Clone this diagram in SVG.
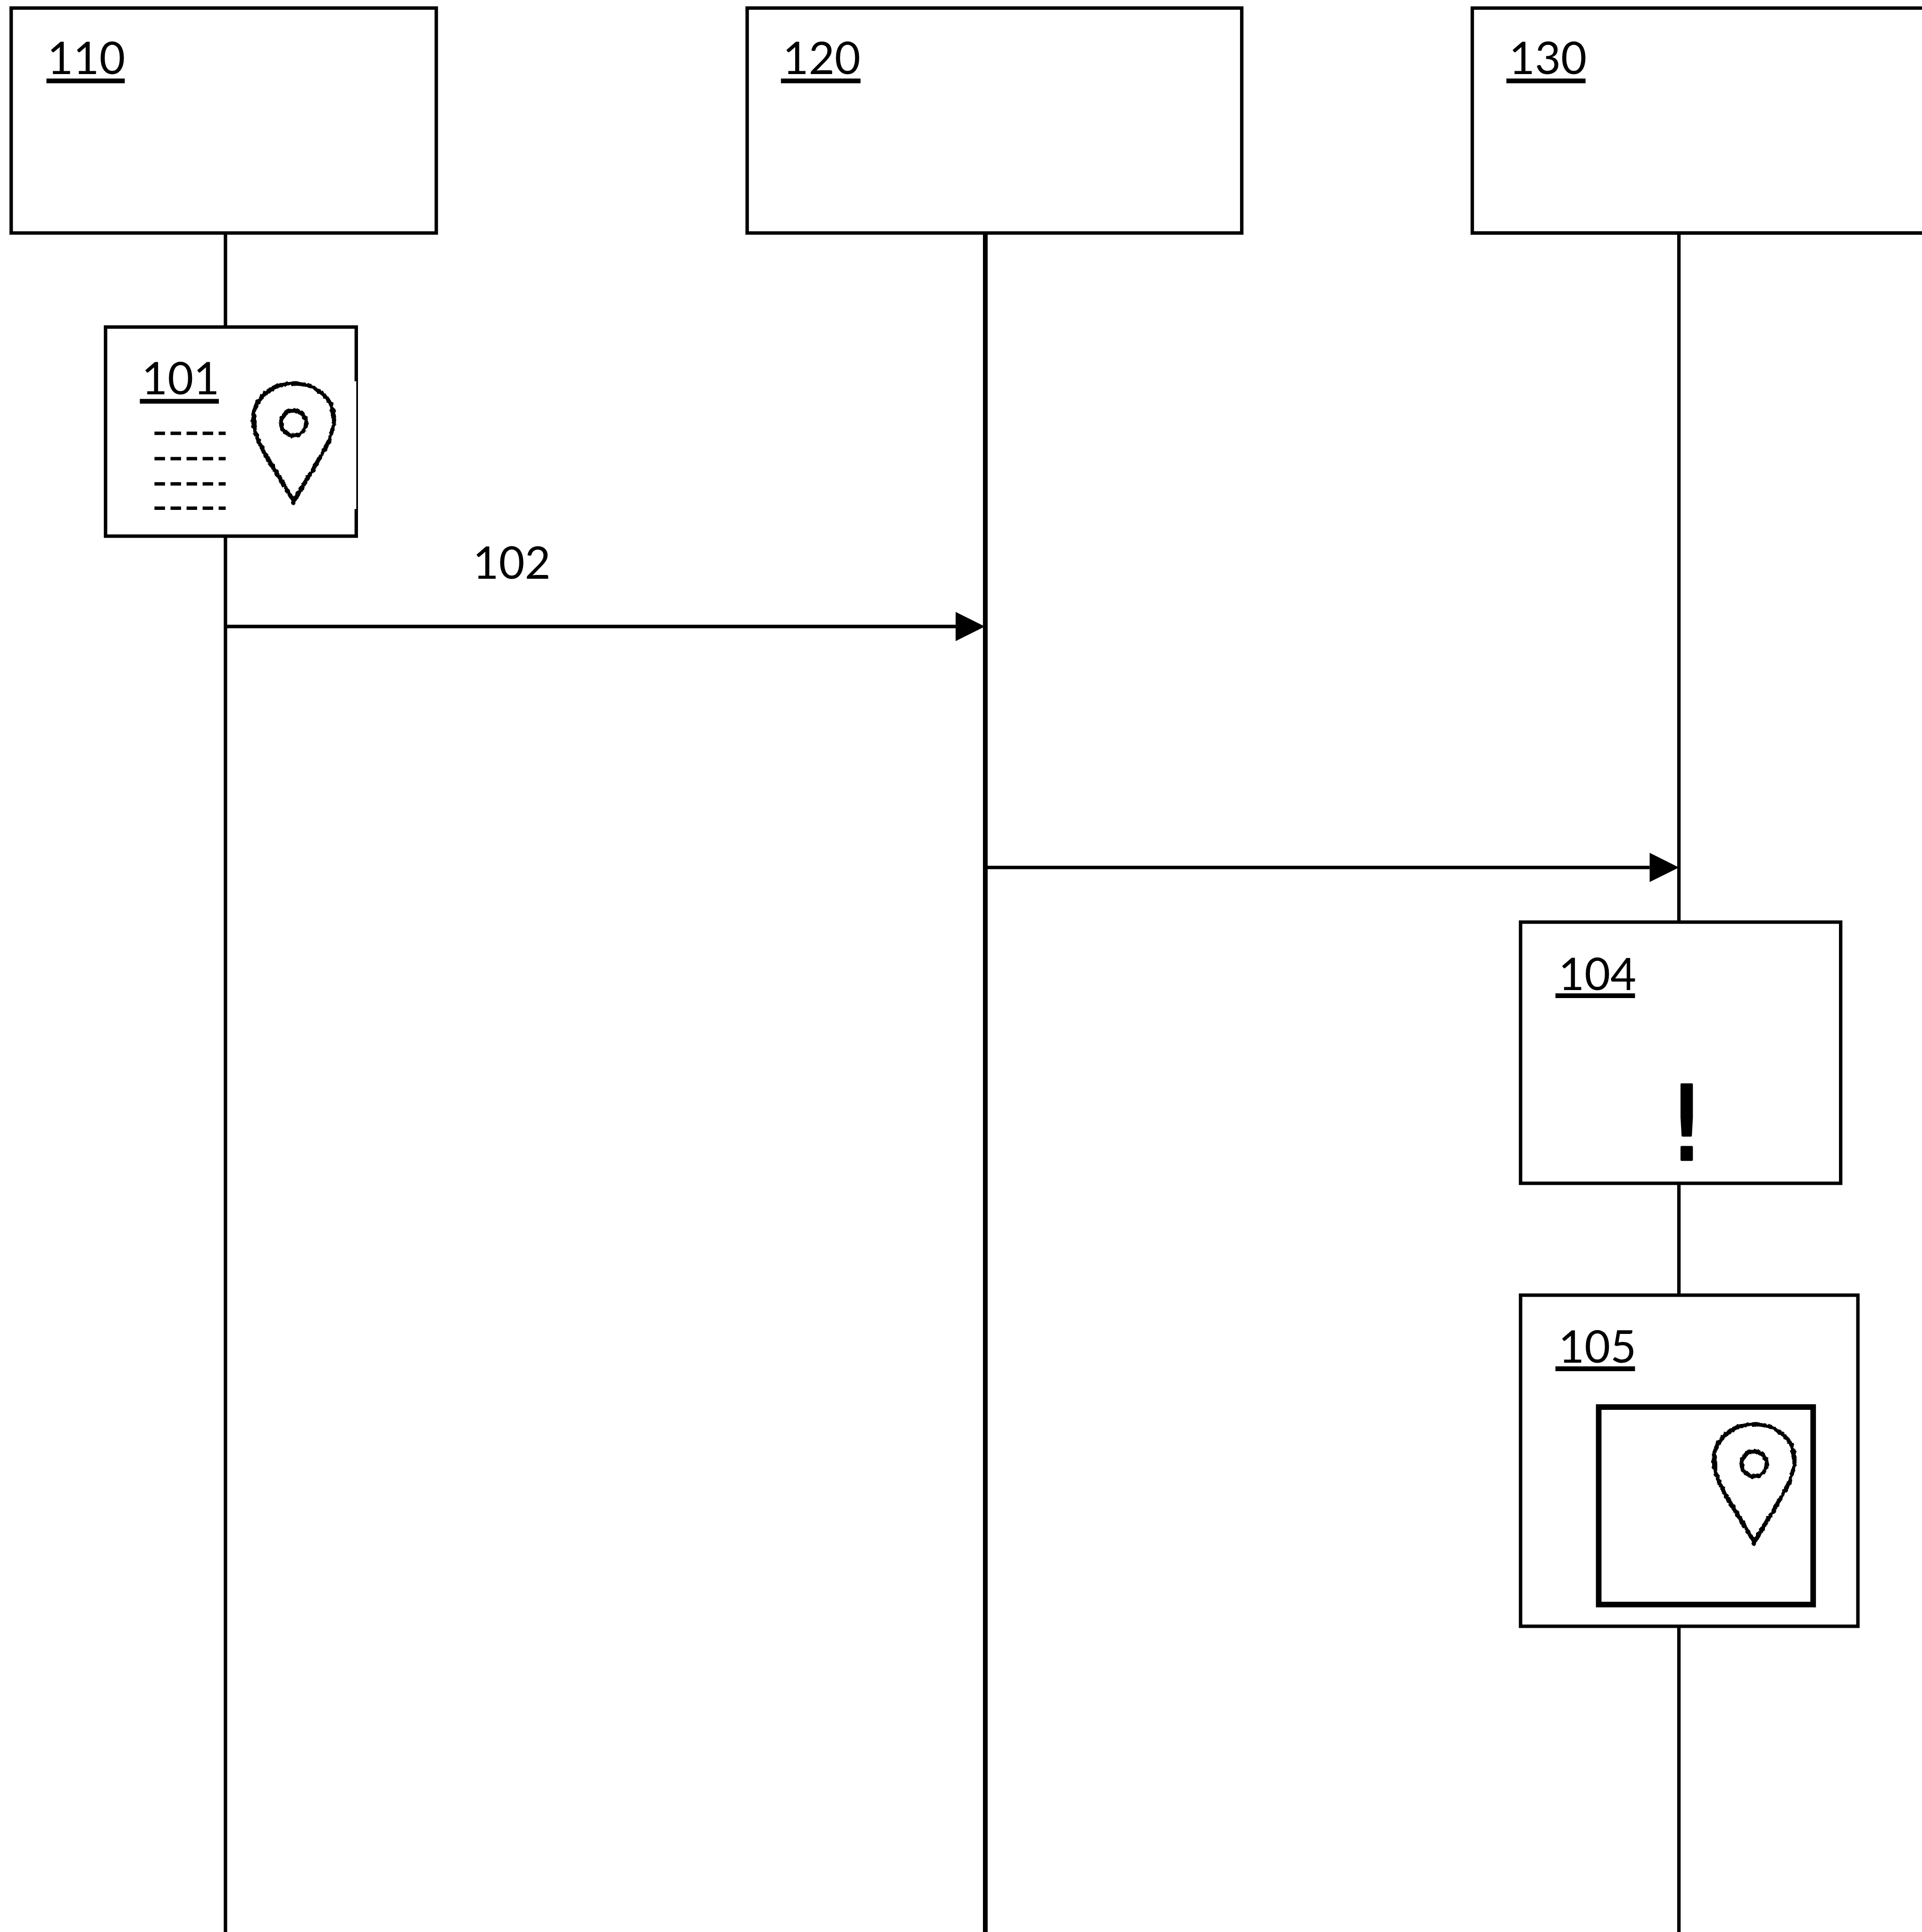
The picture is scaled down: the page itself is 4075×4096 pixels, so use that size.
<svg xmlns="http://www.w3.org/2000/svg" width="4075" height="4096" viewBox="0 0 4075 4096">
  <style>
    .box { fill: #fff; stroke: #000; stroke-width: 8; }
    .wire { fill: none; stroke: #000; stroke-width: 8; }
    .ul { stroke: #000; stroke-width: 11; }
    .dash { stroke: #000; stroke-width: 8; stroke-dasharray: 24.5 12.8; }
    .lbl { font-family: "Lato", "Carlito", "Liberation Sans", sans-serif; font-size: 104px; fill: #000; }
    .mark { font-family: "DejaVu Sans", sans-serif; font-size: 240px; fill: #000; stroke: #000; stroke-width: 5; stroke-linejoin: round; }
    .pin { fill: none; stroke: #000; stroke-width: 10; }
  </style>
  <defs>
    <marker id="head" markerUnits="userSpaceOnUse" markerWidth="70" markerHeight="68" refX="0" refY="34" orient="auto" overflow="visible">
      <path d="M0 0 L68 34 L0 68 Z" fill="#000"/>
    </marker>
    <filter id="rough" x="-20%" y="-20%" width="140%" height="140%">
      <feTurbulence type="fractalNoise" baseFrequency="0.12" numOctaves="2" seed="4" result="n"/>
      <feDisplacementMap in="SourceGraphic" in2="n" scale="8" xChannelSelector="R" yChannelSelector="G"/>
    </filter>
    <g id="pinIcon" filter="url(#rough)">
      <path class="pin" d="M0 182 C-25 140 -60 85 -78 50 C-92 20 -96 -5 -92 -25 C-84 -65 -45 -92 0 -92 C45 -92 84 -65 92 -25 C96 -5 92 20 78 50 C60 85 25 140 0 182 Z"/>
      <circle class="pin" cx="0" cy="0" r="29"/>
    </g>
  </defs>
  <rect width="4075" height="4096" fill="#fff"/>
  <g transform="scale(0.91225)">
    <g id="connectors">
      <line class="wire" x1="524" y1="541" x2="524" y2="4490"/>
      <line class="wire" style="stroke-width:11" x1="2290" y1="541" x2="2290" y2="4490"/>
      <line class="wire" x1="3902" y1="541" x2="3902" y2="4490"/>
      <line class="wire" x1="524" y1="1456" x2="2221" y2="1456" marker-end="url(#head)"/>
      <line class="wire" x1="2290" y1="2016" x2="3834" y2="2016" marker-end="url(#head)"/>
    </g>
    <g id="node-110">
      <rect class="box" x="26" y="18.7" width="988" height="522.8"/>
      <text class="lbl" x="110" y="172">110</text>
      <line class="ul" x1="108" y1="188" x2="290" y2="188"/>
    </g>
    <g id="node-120">
      <rect class="box" x="1736.5" y="18.7" width="1149.5" height="522.8"/>
      <text class="lbl" x="1819" y="172">120</text>
      <line class="ul" x1="1815" y1="188" x2="2000" y2="188"/>
    </g>
    <g id="node-130">
      <path class="box" d="M4467 18.7 H3421.8 V541.5 H4467"/>
      <text class="lbl" x="3507" y="172">130</text>
      <line class="ul" x1="3501" y1="188" x2="3685" y2="188"/>
    </g>
    <g id="node-101">
      <rect class="box" x="245.3" y="760" width="582.7" height="486"/>
      <rect x="822" y="886" width="6" height="297" fill="#fff"/>
      <text class="lbl" x="329" y="916.5">101</text>
      <line class="ul" x1="325" y1="932.5" x2="508.6" y2="932.5"/>
      <line class="dash" x1="359" y1="1007" x2="524.5" y2="1007"/>
      <line class="dash" x1="359" y1="1066" x2="524.5" y2="1066"/>
      <line class="dash" x1="359" y1="1124.5" x2="524.5" y2="1124.5"/>
      <line class="dash" x1="359" y1="1181" x2="524.5" y2="1181"/>
      <use href="#pinIcon" x="682.5" y="983"/>
    </g>
    <g id="label-102">
      <text class="lbl" x="1099" y="1345.5">102</text>
    </g>
    <g id="node-104">
      <rect class="box" x="3534" y="2143" width="744" height="607"/>
      <text class="lbl" x="3622" y="2300.5">104</text>
      <line class="ul" x1="3615" y1="2314" x2="3800" y2="2314"/>
      <text class="mark" x="3920" y="2696" text-anchor="middle">!</text>
    </g>
    <g id="node-105">
      <rect class="box" x="3534" y="3010" width="784" height="769.5"/>
      <text class="lbl" x="3622" y="3167">105</text>
      <line class="ul" x1="3615" y1="3181" x2="3800" y2="3181"/>
      <rect x="3715.6" y="3270" width="498.4" height="459" fill="#fff" stroke="#000" stroke-width="13"/>
      <use href="#pinIcon" x="4077" y="3402"/>
    </g>
  </g>
</svg>
